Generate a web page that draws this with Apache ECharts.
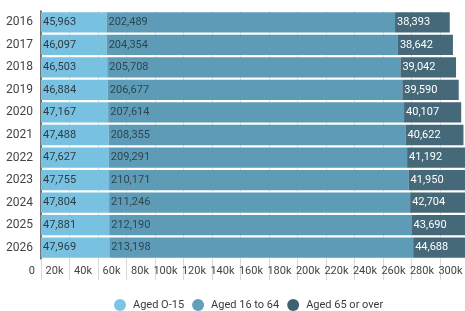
<!DOCTYPE html>
<html><head><meta charset="utf-8">
<script src="https://cdn.jsdelivr.net/npm/echarts@6/dist/echarts.min.js"></script>
<style>html,body{margin:0;padding:0;background:#fff}#c{width:465px;height:311px}</style>
</head><body><div id="c"></div>
<script>
const years = ['2016','2017','2018','2019','2020','2021','2022','2023','2024','2025','2026'];
const aged0to15 = [45963,46097,46503,46884,47167,47488,47627,47755,47804,47881,47969];
const aged16to64 = [202489,204354,205708,206677,207614,208355,209291,210171,211246,212190,213198];
const aged65plus = [38393,38642,39042,39590,40107,40622,41192,41950,42704,43690,44688];
const seriesNames = ['Aged O-15','Aged 16 to 64','Aged 65 or over'];
const colors = ['#78c1e0','#5e9bb7','#456979'];
const legendColors = ['#7cc5e4','#649fba','#3f6272'];
const labelColors = ['#2f3b42','#2c4653','#ffffff'];

const fmt = v => v.toLocaleString('en-US');
const chart = echarts.init(document.getElementById('c'));
const mk = (name, data, i) => ({
  name, type: 'bar', stack: 'total', data, barCategoryGap: '10%',
  itemStyle: {color: colors[i]},
  label: {show: true, position: 'insideLeft', distance: 2, color: labelColors[i],
    fontSize: 11, fontFamily: 'Roboto', formatter: p => fmt(p.value)},
  emphasis: {disabled: true}
});
const series = [mk(seriesNames[0], aged0to15, 0), mk(seriesNames[1], aged16to64, 1), mk(seriesNames[2], aged65plus, 2)];
chart.setOption({
  animation: false,
  textStyle: {fontFamily: 'Roboto'},
  grid: {left: 41, top: 11, bottom: 52, right: -32, containLabel: false, outerBoundsMode: 'none'},
  xAxis: {
    type: 'value', min: 0, max: 320000, interval: 20000,
    axisLine: {show: false},
    axisTick: {show: true, length: 21, lineStyle: {color: '#d8d8d8'}},
    splitLine: {show: true, lineStyle: {color: '#e2e2e2'}},
    axisLabel: {align: 'right', padding: [0, 6, 0, 0], margin: 7, fontSize: 11, color: '#444',
      formatter: v => v === 0 ? '0' : (v / 1000) + 'k'}
  },
  yAxis: {
    type: 'category', data: years, inverse: true,
    axisLine: {show: true, lineStyle: {color: '#444', width: 1.5}},
    axisTick: {show: false},
    axisLabel: {fontSize: 12, color: '#444', margin: 8}
  },
  legend: {
    bottom: 0, left: 114, padding: 0, icon: 'circle', itemWidth: 12, itemHeight: 12, itemGap: 8,
    textStyle: {fontSize: 11, color: '#3a3a3a', padding: [0, 0, 0, 2]},
    data: seriesNames.map((n, i) => ({name: n, itemStyle: {color: legendColors[i]}}))
  },
  series
});
</script></body></html>
